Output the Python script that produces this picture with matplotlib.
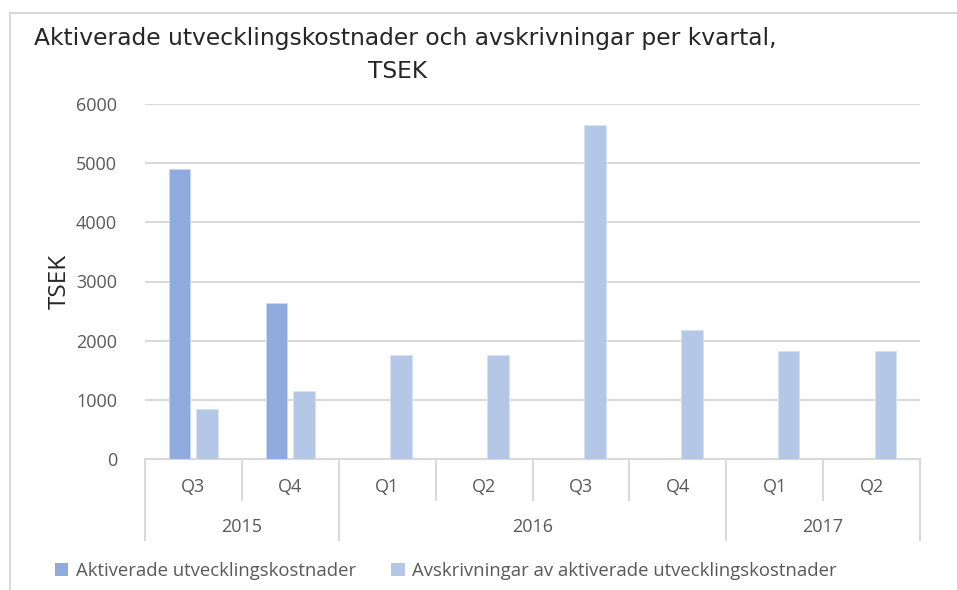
import matplotlib
matplotlib.use("Agg")
import matplotlib.pyplot as plt
from matplotlib.lines import Line2D
from matplotlib.patches import Patch
import matplotlib.transforms as mtransforms
import numpy as np

quarters = ["Q3", "Q4", "Q1", "Q2", "Q3", "Q4", "Q1", "Q2"]
years = ["2015", "2016", "2017"]
year_spans = [(0, 1), (2, 5), (6, 7)]
aktiverade = [4900, 2630, 0, 0, 0, 0, 0, 0]
avskrivningar = [850, 1150, 1750, 1750, 5650, 2180, 1830, 1830]
series_names = ["Aktiverade utvecklingskostnader",
                "Avskrivningar av aktiverade utvecklingskostnader"]
yticks = [0, 1000, 2000, 3000, 4000, 5000, 6000]

c_dark = "#8FAADC"
c_light = "#B4C7E7"
grid_c = "#D9D9D9"
txt_c = "#595959"

W, H = 957, 590
fig = plt.figure(figsize=(W / 100, H / 100), dpi=100)
ax = fig.add_axes([145 / W, 1 - 459 / H, (920 - 145) / W, (459 - 104) / H])

x = np.arange(len(quarters))
bw = 0.225
off = 0.143
ax.bar(x - off, aktiverade, bw, color=c_dark, edgecolor="#C9D7F0", linewidth=0.6, zorder=3)
ax.bar(x + off, avskrivningar, bw, color=c_light, edgecolor="#D6E1F3", linewidth=0.6, zorder=3)

ax.set_xlim(-0.5, len(quarters) - 0.5)
ax.set_ylim(0, 6000)
ax.set_yticks(yticks)
ax.set_yticklabels([str(v) for v in yticks], fontsize=13, color=txt_c, family="Open Sans")
ax.tick_params(axis="y", length=0, pad=20)
ax.set_xticks([])
for s in ["top", "right", "left"]:
    ax.spines[s].set_visible(False)
ax.spines["bottom"].set_color(grid_c)
ax.spines["bottom"].set_linewidth(1.5)
ax.yaxis.grid(True, color=grid_c, linewidth=1.5, zorder=0)
ax.set_axisbelow(True)
ax.set_ylabel("TSEK", fontsize=17.5, color="#262626", family="Open Sans", labelpad=3)

# multi-level category axis
trans = mtransforms.blended_transform_factory(ax.transData, ax.transAxes)
ah = 459 - 104
q_drop = (500 - 459) / ah
y_drop = (540 - 459) / ah
year_bounds = set()
for a, b in year_spans:
    year_bounds.add(a - 0.5)
    year_bounds.add(b + 0.5)
for i in range(len(quarters) + 1):
    xb = i - 0.5
    d = y_drop if xb in year_bounds else q_drop
    ax.add_line(Line2D([xb, xb], [0, -d], transform=trans, color=grid_c,
                       linewidth=1.5, clip_on=False))
for i, q in enumerate(quarters):
    ax.text(i, -(487 - 459) / ah, q, transform=trans, ha="center", va="center",
            fontsize=13, color=txt_c, family="Open Sans")
for (a, b), yr in zip(year_spans, years):
    ax.text((a + b) / 2, -(527 - 459) / ah, yr, transform=trans, ha="center",
            va="center", fontsize=13, color=txt_c, family="Open Sans")

# title
fig.text(405 / W, 1 - 38 / H, "Aktiverade utvecklingskostnader och avskrivningar per kvartal,",
         ha="center", va="center", fontsize=16.8, color="#262626", family="DejaVu Sans")
fig.text(398 / W, 1 - 72 / H, "TSEK", ha="center", va="center", fontsize=16.8,
         color="#262626", family="DejaVu Sans")

# legend
handles = [Patch(facecolor=c_dark, edgecolor="none"), Patch(facecolor=c_light, edgecolor="none")]
fig.legend(handles, series_names, loc="center left", bbox_to_anchor=(38 / W, 1 - 571 / H),
           ncol=2, frameon=False, handlelength=0.75, handleheight=0.75,
           handletextpad=0.4, columnspacing=1.9, prop={"family": "Open Sans", "size": 13.3},
           labelcolor=txt_c)

# chart border
fig.add_artist(Line2D([10 / W, 10 / W], [0, 1 - 13 / H], color=grid_c, linewidth=1.5))
fig.add_artist(Line2D([10 / W, 1], [1 - 13 / H, 1 - 13 / H], color=grid_c, linewidth=1.5))

fig.savefig("out.png", dpi=100, facecolor="white")
